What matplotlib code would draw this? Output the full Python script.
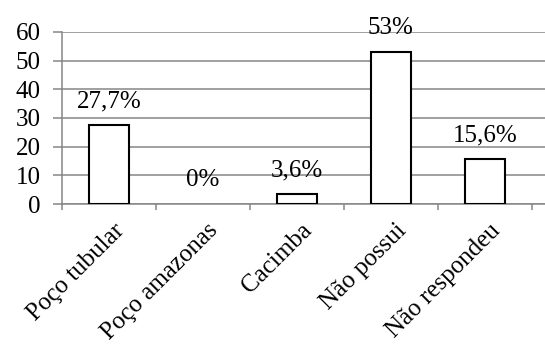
import matplotlib.pyplot as plt
import matplotlib.transforms as mtransforms
import numpy as np

categories = ["Poço tubular", "Poço amazonas", "Cacimba", "Não possui", "Não respondeu"]
values = [27.7, 0, 3.6, 53, 15.6]
value_labels = ["27,7%", "0%", "3,6%", "53%", "15,6%"]

plt.rcParams['font.family'] = ['Liberation Serif', 'DejaVu Serif']

fig = plt.figure(figsize=(5.45, 3.51), dpi=100)
ax = fig.add_axes([62/545, 1 - 204/351, 1 - 62/545, (204 - 32)/351])

grid_color = '#868686'
x = np.arange(len(categories))
edges = ['black' if v > 0 else 'none' for v in values]
ax.bar(x, values, width=0.42, color='white', edgecolor=edges, linewidth=1.5, zorder=3)

for xi, v, lab in zip(x, values, value_labels):
    ax.annotate(lab, (xi, v), xytext=(0, 17), textcoords='offset points',
                ha='center', va='center', fontsize=18, zorder=4)

ax.set_ylim(0, 60)
ax.set_xlim(-0.5, 4.64)
ax.set_yticks(range(0, 61, 10))
ax.yaxis.grid(True, color=grid_color, linewidth=1.1)
ax.set_axisbelow(True)

ax.set_xticks(np.arange(-0.5, 5, 1))
ax.set_xticklabels([])
ax.set_xticks(x, minor=True)
ax.set_xticklabels(categories, minor=True, rotation=45, ha='right',
                   rotation_mode='anchor', fontsize=18)
ax.tick_params(axis='x', which='minor', length=0, pad=11)
ax.tick_params(axis='x', which='major', length=4.5, width=1.1, color=grid_color)
ax.tick_params(axis='y', length=6.5, width=1.1, color=grid_color, labelsize=18, pad=9)

shift = mtransforms.ScaledTranslation(4/100, 0, fig.dpi_scale_trans)
for lbl in ax.get_xticklabels(minor=True):
    lbl.set_transform(lbl.get_transform() + shift)

for s in ['top', 'right']:
    ax.spines[s].set_visible(False)
for s in ['left', 'bottom']:
    ax.spines[s].set_color(grid_color)
    ax.spines[s].set_linewidth(1.1)

fig.savefig('out.png', dpi=100)
